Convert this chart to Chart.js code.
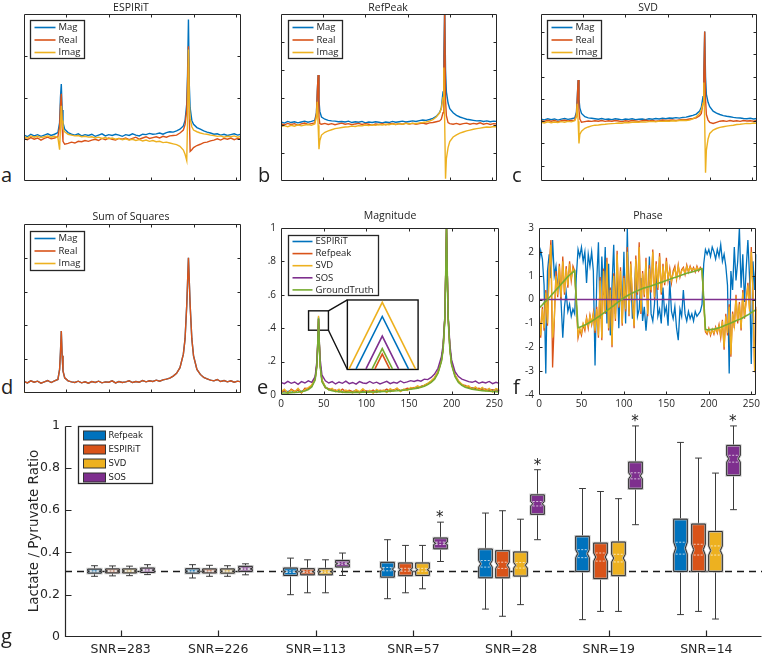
<!DOCTYPE html>
<html>
<head>
<meta charset="utf-8">
<script src="https://cdn.jsdelivr.net/npm/chart.js@4.4.0/dist/chart.umd.min.js"></script>
<style>
  html, body { margin: 0; padding: 0; background: #fff; }
  body { width: 763px; height: 654px; position: relative; overflow: hidden; font-family: 'Open Sans', sans-serif; color: #222; }
  canvas { position: absolute; }
  .ttl { position: absolute; font-size: 10.5px; line-height: 12px; transform: translateX(-50%); white-space: nowrap; }
  .let { position: absolute; font-size: 20px; line-height: 20px; }
  .ylab { position: absolute; width: 220px; text-align: center; font: 13.5px 'DejaVu Sans', sans-serif; line-height: 16px; transform: rotate(-90deg); color: #262626; }
</style>
</head>
<body>
<script>
// ---- spectra (panels a-e): sample positions, denser around the two peaks ----
const SPEC_X = [0,4,8,12,16,20,24,28,32,36,40,
  42,43,44,45,46,
  48,52,56,60,64,68,72,76,80,
  84,88,92,96,100,104,108,112,116,
  120,124,128,132,136,140,144,148,152,
  156,160,164,168,172,176,180,184,188,
  190,192,193,194,195,196,198,
  200,204,208,212,216,220,224,228,232,236,240,244,248,252,256];

// a) ESPIRiT
const A_MAG = [0.10,0.06,0.12,0.08,0.11,0.07,0.10,0.13,0.09,0.12,0.16,
  0.40,1.00,1.32,0.70,0.40,
  0.24,0.16,0.12,0.10,0.13,0.08,0.11,0.09,0.12,
  0.07,0.10,0.13,0.08,0.11,0.09,0.12,0.10,0.07,
  0.11,0.09,0.13,0.10,0.08,0.12,0.11,0.14,0.12,
  0.13,0.15,0.12,0.16,0.18,0.17,0.20,0.24,0.32,
  0.45,0.85,1.60,2.87,1.30,0.75,0.45,
  0.36,0.28,0.24,0.20,0.17,0.15,0.12,0.13,0.10,0.12,0.09,0.11,0.13,0.10,0.12];
const A_REAL = [0.02,-0.01,0.04,0.00,0.03,-0.02,0.02,0.05,0.01,0.03,0.06,
  0.30,0.80,1.09,0.30,-0.05,
  -0.12,-0.10,-0.07,-0.09,-0.05,-0.06,-0.03,-0.05,-0.02,
  0.00,-0.03,0.02,-0.01,0.03,0.00,-0.02,0.02,0.00,
  0.03,-0.01,0.02,0.05,0.00,0.03,0.06,0.02,0.04,
  0.06,0.03,0.07,0.05,0.08,0.09,0.10,0.15,0.22,
  0.35,0.70,1.40,2.23,0.60,-0.29,-0.25,
  -0.20,-0.15,-0.12,-0.08,-0.07,-0.04,-0.02,0.01,-0.02,0.02,0.00,0.03,-0.01,0.02,0.01];
const A_IMAG = [0.06,0.03,0.08,0.05,0.07,0.04,0.06,0.08,0.05,0.07,0.04,
  -0.25,0.30,0.80,0.45,0.25,
  0.18,0.12,0.10,0.08,0.09,0.06,0.07,0.05,0.06,
  0.03,0.05,0.02,0.04,0.01,0.03,0.00,0.02,-0.01,
  0.01,-0.02,0.00,-0.03,-0.01,-0.04,-0.02,-0.05,-0.03,
  -0.06,-0.05,-0.08,-0.07,-0.09,-0.11,-0.13,-0.17,-0.26,
  -0.36,-0.51,0.50,2.15,0.90,0.50,0.30,
  0.22,0.18,0.15,0.13,0.12,0.10,0.09,0.07,0.08,0.05,0.07,0.06,0.08,0.05,0.07];

// b) RefPeak
const B_MAG = [0.12,0.08,0.14,0.10,0.13,0.09,0.12,0.15,0.11,0.14,0.18,
  0.45,1.20,1.81,0.90,0.50,
  0.30,0.22,0.18,0.16,0.15,0.13,0.14,0.12,0.15,
  0.10,0.13,0.11,0.14,0.09,0.12,0.10,0.13,0.11,
  0.09,0.12,0.10,0.14,0.11,0.13,0.15,0.12,0.14,
  0.16,0.14,0.17,0.19,0.18,0.21,0.25,0.32,0.46,
  0.62,1.20,2.50,4.30,2.00,1.20,0.80,
  0.60,0.45,0.36,0.30,0.26,0.22,0.20,0.18,0.16,0.17,0.14,0.16,0.13,0.15,0.14];
const B_REAL = [0.05,0.02,0.07,0.03,0.06,0.01,0.05,0.08,0.03,0.06,0.09,
  0.40,1.20,1.81,0.30,0.06,
  0.04,0.07,0.03,0.06,0.02,0.05,0.08,0.04,0.06,
  0.02,0.05,0.07,0.03,0.06,0.04,0.01,0.05,0.03,
  0.06,0.02,0.05,0.07,0.03,0.06,0.04,0.08,0.05,
  0.07,0.04,0.06,0.08,0.05,0.09,0.10,0.13,0.16,
  0.22,0.45,1.50,4.30,0.90,0.35,0.10,
  0.06,0.04,0.07,0.03,0.06,0.08,0.04,0.07,0.05,0.09,0.04,0.07,0.03,0.06,0.05];
const B_IMAG = [-0.04,-0.01,-0.05,0.00,-0.03,0.02,-0.02,0.01,0.03,0.00,0.05,
  0.30,0.85,0.00,-0.86,-0.55,
  -0.35,-0.25,-0.20,-0.16,-0.12,-0.10,-0.08,-0.06,-0.05,
  -0.03,-0.04,-0.01,-0.02,0.01,-0.01,0.02,0.00,0.03,
  0.01,0.04,0.02,0.05,0.03,0.06,0.04,0.07,0.05,
  0.08,0.06,0.09,0.10,0.12,0.15,0.20,0.30,0.45,
  0.60,1.00,2.08,0.10,-1.92,-1.20,-0.80,
  -0.58,-0.42,-0.34,-0.28,-0.24,-0.20,-0.17,-0.14,-0.12,-0.10,-0.08,-0.06,-0.07,-0.04,-0.05];

// c) SVD
const C_MAG = [0.09,0.06,0.11,0.07,0.10,0.05,0.09,0.12,0.08,0.11,0.15,
  0.40,1.10,1.85,1.00,0.60,
  0.35,0.20,0.15,0.13,0.11,0.09,0.12,0.08,0.10,
  0.07,0.11,0.09,0.06,0.10,0.08,0.11,0.07,0.09,
  0.10,0.07,0.11,0.09,0.12,0.10,0.13,0.11,0.14,
  0.13,0.16,0.14,0.17,0.18,0.22,0.26,0.32,0.46,
  0.62,1.10,2.20,4.03,2.00,1.20,0.85,
  0.65,0.45,0.36,0.30,0.25,0.22,0.20,0.17,0.15,0.14,0.12,0.11,0.13,0.10,0.12];
const C_REAL = [0.02,-0.01,0.04,0.00,0.03,-0.02,0.02,0.04,0.01,0.03,0.05,
  0.30,1.00,1.85,0.50,0.10,
  -0.05,-0.02,0.01,-0.01,0.02,0.00,0.03,-0.01,0.02,
  0.00,0.03,0.01,-0.02,0.02,0.00,0.03,0.01,-0.01,
  0.02,0.04,0.01,0.03,0.00,0.02,0.05,0.03,0.04,
  0.05,0.03,0.06,0.08,0.07,0.10,0.12,0.15,0.25,
  0.35,0.80,2.00,4.03,1.00,0.30,0.05,
  -0.05,-0.10,-0.05,0.00,0.02,-0.01,0.03,0.00,0.02,-0.01,0.03,0.01,0.02,0.00,0.03];
const C_IMAG = [-0.05,-0.08,-0.03,-0.07,-0.04,-0.06,-0.02,-0.05,-0.01,-0.03,0.02,
  0.20,0.78,0.00,-1.00,-0.60,
  -0.45,-0.32,-0.26,-0.21,-0.18,-0.17,-0.15,-0.14,-0.12,
  -0.11,-0.10,-0.08,-0.09,-0.06,-0.07,-0.05,-0.04,-0.05,
  -0.03,-0.04,-0.02,-0.01,-0.03,0.00,-0.01,0.01,0.00,
  0.02,0.01,0.03,0.04,0.03,0.05,0.10,0.20,0.35,
  0.50,0.80,1.74,0.00,-2.32,-1.30,-0.80,
  -0.55,-0.40,-0.33,-0.28,-0.25,-0.22,-0.20,-0.18,-0.15,-0.14,-0.12,-0.10,-0.11,-0.08,-0.09];

// d) Sum of Squares (magnitude equals the real part, imaginary part is zero)
const D_REAL = [0.34,0.30,0.36,0.32,0.35,0.29,0.33,0.37,0.31,0.36,0.40,
  0.70,1.20,1.83,1.10,0.65,
  0.45,0.36,0.33,0.31,0.35,0.30,0.33,0.29,0.34,
  0.31,0.35,0.30,0.33,0.32,0.36,0.30,0.34,0.31,
  0.33,0.36,0.31,0.34,0.32,0.37,0.33,0.36,0.34,
  0.38,0.35,0.39,0.41,0.44,0.50,0.58,0.75,1.15,
  1.60,2.60,3.30,4.00,3.30,2.60,1.60,
  1.10,0.70,0.55,0.46,0.42,0.38,0.36,0.40,0.34,0.37,0.33,0.36,0.32,0.35,0.33];
const D_MAG = D_REAL;
const D_IMAG_X = [0, 256];
const D_IMAG = [0, 0];

// e) Magnitude
const E_ESP = [0.018,0.025,0.020,0.028,0.015,0.033,0.020,0.030,0.040,0.052,0.098,
  0.180,0.295,0.468,0.295,0.178,
  0.088,0.048,0.035,0.030,0.025,0.028,0.020,0.026,0.020,
  0.018,0.028,0.016,0.025,0.020,0.024,0.015,0.028,0.020,
  0.026,0.020,0.030,0.028,0.035,0.025,0.032,0.034,0.040,
  0.042,0.048,0.050,0.058,0.068,0.082,0.100,0.138,0.208,
  0.278,0.458,0.708,1.000,0.708,0.458,0.278,
  0.188,0.118,0.082,0.062,0.052,0.048,0.040,0.042,0.035,0.040,0.030,0.034,0.028,0.032,0.026];
const E_REF = [0.015,0.028,0.010,0.035,0.022,0.030,0.012,0.040,0.038,0.055,0.095,
  0.175,0.285,0.455,0.290,0.175,
  0.085,0.042,0.038,0.028,0.030,0.018,0.035,0.020,0.028,
  0.020,0.025,0.012,0.030,0.024,0.018,0.030,0.015,0.028,
  0.024,0.035,0.020,0.030,0.038,0.026,0.030,0.040,0.036,
  0.045,0.040,0.052,0.058,0.066,0.080,0.100,0.135,0.205,
  0.275,0.455,0.705,1.000,0.705,0.455,0.275,
  0.185,0.115,0.080,0.060,0.058,0.045,0.042,0.035,0.040,0.030,0.036,0.025,0.032,0.022,0.028];
const E_SVD = [0.020,0.035,0.012,0.030,0.018,0.040,0.015,0.032,0.045,0.060,0.100,
  0.185,0.300,0.475,0.300,0.180,
  0.090,0.050,0.030,0.040,0.020,0.035,0.015,0.030,0.022,
  0.012,0.032,0.020,0.038,0.015,0.028,0.010,0.034,0.022,
  0.030,0.015,0.038,0.025,0.042,0.020,0.036,0.028,0.045,
  0.040,0.055,0.045,0.060,0.070,0.085,0.105,0.140,0.210,
  0.280,0.460,0.710,1.000,0.710,0.460,0.280,
  0.190,0.120,0.085,0.065,0.050,0.055,0.035,0.048,0.030,0.045,0.025,0.040,0.018,0.038,0.030];
const E_SOS = [0.075,0.068,0.082,0.070,0.078,0.064,0.080,0.072,0.085,0.076,0.110,
  0.200,0.310,0.455,0.310,0.210,
  0.120,0.085,0.072,0.080,0.066,0.078,0.070,0.083,0.068,
  0.075,0.065,0.080,0.072,0.069,0.081,0.070,0.077,0.066,
  0.074,0.082,0.068,0.076,0.071,0.084,0.073,0.079,0.086,
  0.081,0.088,0.083,0.095,0.092,0.105,0.125,0.160,0.230,
  0.300,0.470,0.710,1.000,0.710,0.470,0.300,
  0.210,0.140,0.110,0.095,0.088,0.080,0.076,0.083,0.070,0.078,0.072,0.081,0.068,0.076,0.070];
const E_GT = [0.012,0.012,0.013,0.014,0.015,0.017,0.020,0.024,0.032,0.048,0.090,
  0.170,0.290,0.460,0.290,0.170,
  0.080,0.045,0.032,0.025,0.021,0.019,0.017,0.016,0.016,
  0.016,0.016,0.016,0.017,0.017,0.018,0.018,0.019,0.020,
  0.021,0.022,0.023,0.024,0.025,0.027,0.029,0.031,0.034,
  0.037,0.041,0.046,0.053,0.062,0.075,0.095,0.130,0.200,
  0.270,0.450,0.700,1.000,0.700,0.450,0.270,
  0.180,0.110,0.075,0.058,0.047,0.040,0.035,0.031,0.028,0.026,0.024,0.022,0.021,0.020,0.019];
const E_YLABELS = ['0', '.2', '.4', '.6', '.8', '1'];
// zoomed peak tips: apex height and half base width of each triangle in the inset
const INSET_ORDER = ['ESPIRiT', 'Refpeak', 'SVD', 'SOS', 'GroundTruth'];
const INSET_APEX = [0.470, 0.245, 0.555, 0.353, 0.278];
const INSET_HALF = [30.7, 8.6, 38.9, 19.1, 11.9];
const ZOOM_WIN = { x0: 32.3, x1: 55.6, y0: 0.388, y1: 0.504 };
const INSET_WIN = { x0: 77.8, x1: 160.7, y0: 0.153, y1: 0.569, cx: 118.7 };

// f) Phase, one value every 2 samples (0..256)
const F_ESP = [1.50,2.05,1.70,0.60,-3.10,1.20,1.90,0.90,2.50,1.00,1.40,0.50,0.90,-0.10,-1.60,-0.30,
  0.30,-0.50,-0.20,-0.70,-0.40,-0.60,1.00,2.10,1.80,2.20,1.60,2.00,0.70,1.90,1.40,2.00,
  1.20,-2.76,0.80,2.40,-0.80,1.80,0.20,2.20,-1.00,1.50,-1.50,0.60,2.30,-0.60,1.20,-1.20,
  0.80,-0.40,2.00,-1.00,3.00,-0.50,1.20,-0.80,-0.20,1.60,-0.70,-0.40,0.90,-0.90,-0.30,-1.30,
  -0.40,1.80,-0.60,-0.90,-0.20,1.30,-0.70,-0.40,-1.00,0.50,-0.60,-0.30,-1.10,0.80,-0.50,-0.80,
  -0.30,-1.20,-1.70,-0.40,-0.70,0.40,-0.60,-0.90,-0.50,-0.80,-0.60,-0.90,-0.50,-0.70,-0.60,-0.50,
  -0.20,1.50,2.10,1.90,2.10,1.80,2.20,2.00,1.70,2.10,1.80,2.30,1.60,1.90,1.40,0.60,
  -3.10,1.20,0.40,2.20,0.80,1.60,3.00,0.50,1.90,-0.10,1.30,2.50,0.90,-2.70,1.60,0.40,
  1.90];
const F_REF = [-0.40,-1.60,-0.30,-1.30,0.40,-1.10,1.40,2.50,-2.85,-0.90,1.20,0.10,1.50,0.00,1.80,0.20,
  1.40,0.50,1.60,0.80,1.40,1.20,-0.20,-1.60,-1.25,-1.50,-1.05,-1.30,-0.75,-1.20,-0.65,-1.05,
  -0.55,-1.40,-0.30,-1.60,0.95,-1.70,1.30,-0.60,1.75,-1.30,0.50,-2.00,1.10,-0.90,2.05,-0.35,
  1.35,-1.10,1.00,-0.50,2.20,-0.70,1.60,0.00,-1.20,1.85,0.20,2.40,-0.60,1.20,0.10,1.75,
  -0.70,1.45,0.30,2.10,0.00,1.60,0.40,1.95,0.20,1.50,0.60,1.75,0.80,1.30,0.70,1.20,
  1.40,0.85,1.45,0.95,1.25,1.35,1.05,1.45,1.15,1.40,1.20,1.35,1.15,1.40,1.20,1.35,
  1.25,-0.10,-1.35,-1.45,-1.20,-1.50,-1.25,-1.45,-1.15,-1.40,-1.05,-1.60,-0.85,-2.10,-0.60,-1.50,
  -0.20,-2.40,-0.50,-1.20,0.20,-1.00,-0.10,-1.30,0.40,-0.80,0.00,0.70,-0.40,2.20,0.30,-3.05,
  -0.30];
const F_SVD = [-0.50,-1.50,-0.40,-1.20,0.30,-1.00,1.20,2.30,-1.60,-0.80,1.00,0.20,1.40,0.10,1.60,0.30,
  1.30,0.60,1.50,0.90,1.30,1.10,-0.20,-1.50,-1.20,-1.40,-1.00,-1.20,-0.80,-1.10,-0.70,-1.00,
  -0.60,-1.30,-0.40,-1.50,0.80,-1.60,1.20,-0.50,1.60,-1.20,0.40,-1.90,1.00,-0.80,1.90,-0.30,
  1.20,-1.00,0.90,-0.40,2.00,-0.60,1.50,0.10,-1.10,1.70,0.30,2.20,-0.50,1.10,0.20,1.60,
  -0.60,1.30,0.40,2.00,0.10,1.50,0.50,1.80,0.30,1.40,0.70,1.60,0.90,1.20,0.80,1.10,
  1.30,0.90,1.40,1.00,1.20,1.30,1.10,1.40,1.20,1.35,1.25,1.30,1.20,1.35,1.25,1.30,
  1.20,-0.10,-1.30,-1.40,-1.25,-1.45,-1.30,-1.40,-1.20,-1.35,-1.10,-1.50,-0.90,-2.00,-0.70,-1.40,
  -0.30,-2.30,-0.60,-1.10,0.10,-0.90,-0.20,-1.20,0.30,-0.70,-0.10,0.60,-0.50,2.00,0.20,-3.00,
  -0.40];
const F_GT = [-0.36,-0.29,-0.22,-0.14,-0.07,0.00,0.08,0.16,0.24,0.32,0.40,0.48,0.56,0.64,0.72,0.80,
  0.88,0.96,1.03,1.09,1.15,1.20,0.00,-1.18,-1.16,-1.13,-1.10,-1.07,-1.03,-0.99,-0.95,-0.91,
  -0.86,-0.82,-0.77,-0.72,-0.67,-0.62,-0.57,-0.52,-0.46,-0.41,-0.36,-0.30,-0.25,-0.19,-0.14,-0.08,
  -0.03,0.02,0.07,0.12,0.16,0.20,0.24,0.28,0.31,0.34,0.37,0.40,0.43,0.46,0.49,0.51,
  0.53,0.55,0.57,0.60,0.62,0.65,0.67,0.70,0.72,0.75,0.78,0.80,0.83,0.85,0.88,0.90,
  0.93,0.95,0.98,1.00,1.03,1.05,1.08,1.10,1.12,1.14,1.16,1.18,1.20,1.22,1.24,1.27,
  1.29,0.00,-1.25,-1.27,-1.27,-1.26,-1.25,-1.24,-1.22,-1.20,-1.18,-1.16,-1.13,-1.10,-1.07,-1.04,
  -1.01,-0.98,-0.95,-0.92,-0.89,-0.86,-0.83,-0.80,-0.76,-0.72,-0.68,-0.64,-0.60,-0.55,-0.50,-0.46,
  -0.43];
const F_SOS_X = [0, 256];
const F_SOS = [0, 0];
const PHASE_X = F_GT.map((_, i) => i * 2);

// g) Lactate / Pyruvate ratio boxplots: [whisker low, q1, median, q3, whisker high]
const SNR_LABELS = ['SNR=283', 'SNR=226', 'SNR=113', 'SNR=57', 'SNR=28', 'SNR=19', 'SNR=14'];
const G_YLABELS = ['0', '0.2', '0.4', '0.6', '0.8', '1'];
const METHODS = ['Refpeak', 'ESPIRiT', 'SVD', 'SOS'];
const REFPEAK_BOX = [[0.287,0.302,0.311,0.321,0.337],[0.279,0.302,0.311,0.323,0.342],[0.200,0.291,0.309,0.326,0.373],
  [0.181,0.283,0.321,0.353,0.460],[0.132,0.280,0.346,0.416,0.586],[0.082,0.310,0.394,0.476,0.702],[0.106,0.310,0.420,0.557,0.920]];
const ESPIRIT_BOX = [[0.289,0.303,0.312,0.322,0.336],[0.287,0.303,0.311,0.322,0.339],[0.209,0.294,0.309,0.323,0.365],
  [0.209,0.290,0.318,0.350,0.433],[0.098,0.280,0.339,0.408,0.597],[0.121,0.276,0.378,0.444,0.688],[0.121,0.310,0.413,0.534,0.846]];
const SVD_BOX = [[0.290,0.303,0.312,0.322,0.335],[0.287,0.302,0.311,0.322,0.337],[0.209,0.294,0.309,0.323,0.365],
  [0.228,0.291,0.318,0.350,0.433],[0.153,0.288,0.339,0.402,0.557],[0.121,0.290,0.373,0.449,0.654],[0.085,0.310,0.409,0.499,0.775]];
const SOS_BOX = [[0.295,0.305,0.316,0.326,0.342],[0.294,0.310,0.322,0.334,0.346],[0.291,0.331,0.347,0.362,0.397],
  [0.357,0.417,0.443,0.468,0.543],[0.460,0.580,0.630,0.672,0.791],[0.531,0.701,0.762,0.827,0.998],[0.602,0.764,0.843,0.906,0.998]];
const SOS_STAR = [null, null, null, 0.575, 0.822, 1.03, 1.03];
const TRUE_RATIO = 0.31;
const N_TRIALS = 190;

const COL = { blue: '#0072BD', orange: '#D95319', yellow: '#EDB120', purple: '#7E2F8E', green: '#77AC30' };
const BOX_STATS = [REFPEAK_BOX, ESPIRIT_BOX, SVD_BOX, SOS_BOX];
const METHOD_COLORS = [COL.blue, COL.orange, COL.yellow, COL.purple];
const BOX_OFFSET = [-0.27, -0.09, 0.09, 0.27];
const BOX_WIDTH = 0.14;

Chart.defaults.font.family = "'Open Sans', sans-serif";
Chart.defaults.color = '#222';

// box with inward ticks (or left/bottom axes only)
const frame = {
  id: 'frame',
  afterDraw(chart, args, o) {
    if (!o || !o.on) return;
    const { ctx, chartArea: a, scales } = chart;
    const L = o.tick || 3;
    const l = Math.round(a.left) + 0.5, r = Math.round(a.right) - 0.5;
    const t = Math.round(a.top) + 0.5, b = Math.round(a.bottom) - 0.5;
    ctx.save();
    ctx.strokeStyle = '#262626';
    ctx.lineWidth = o.lw || 1;
    ctx.beginPath();
    if (o.mode === 'axes') { ctx.moveTo(l, t); ctx.lineTo(l, b); ctx.lineTo(r, b); }
    else ctx.rect(l, t, r - l, b - t);
    (o.xt || []).forEach(v => {
      const px = Math.round(scales.x.getPixelForValue(v)) + 0.5;
      ctx.moveTo(px, b); ctx.lineTo(px, b - L);
      if (o.mode !== 'axes') { ctx.moveTo(px, t); ctx.lineTo(px, t + L); }
    });
    (o.yt || []).forEach(v => {
      const py = Math.round(scales.y.getPixelForValue(v)) + 0.5;
      ctx.moveTo(l, py); ctx.lineTo(l + L, py);
      if (o.mode !== 'axes') { ctx.moveTo(r, py); ctx.lineTo(r - L, py); }
    });
    ctx.stroke();
    ctx.restore();
  }
};

// legend drawn inside the axes, MATLAB style
const inLegend = {
  id: 'inLegend',
  afterDraw(chart, args, o) {
    if (!o || !o.items) return;
    const { ctx, chartArea: a } = chart;
    const bx = Math.round(a.left + o.x) + 0.5, by = Math.round(a.top + o.y) + 0.5;
    ctx.save();
    ctx.fillStyle = '#fff';
    ctx.fillRect(bx, by, o.w, o.h);
    ctx.strokeStyle = '#262626'; ctx.lineWidth = 1.3;
    ctx.strokeRect(bx, by, o.w, o.h);
    ctx.font = o.font;
    ctx.textBaseline = 'middle';
    o.items.forEach((it, k) => {
      const yy = by + o.first + k * o.row;
      if (o.swatch === 'box') {
        ctx.fillStyle = it.color;
        ctx.fillRect(bx + o.sx0, yy - o.sh / 2, o.sx1 - o.sx0, o.sh);
        ctx.strokeStyle = '#333'; ctx.lineWidth = 1;
        ctx.strokeRect(bx + o.sx0, yy - o.sh / 2, o.sx1 - o.sx0, o.sh);
      } else {
        ctx.strokeStyle = it.color; ctx.lineWidth = 1.6;
        ctx.beginPath(); ctx.moveTo(bx + o.sx0, yy); ctx.lineTo(bx + o.sx1, yy); ctx.stroke();
      }
      ctx.fillStyle = '#222';
      ctx.fillText(it.label, bx + o.tx, yy);
    });
    ctx.restore();
  }
};

// zoom window + inset frame for panel e
const insetZoom = {
  id: 'insetZoom',
  beforeDatasetsDraw(chart, args, o) {
    if (!o || !o.on) return;
    const { ctx, scales: { x, y } } = chart;
    const X = v => x.getPixelForValue(v), Y = v => y.getPixelForValue(v);
    ctx.save();
    ctx.fillStyle = '#fff';
    ctx.fillRect(X(INSET_WIN.x0), Y(INSET_WIN.y1), X(INSET_WIN.x1) - X(INSET_WIN.x0), Y(INSET_WIN.y0) - Y(INSET_WIN.y1));
    ctx.strokeStyle = '#111'; ctx.lineWidth = 1.4;
    ctx.strokeRect(X(INSET_WIN.x0), Y(INSET_WIN.y1), X(INSET_WIN.x1) - X(INSET_WIN.x0), Y(INSET_WIN.y0) - Y(INSET_WIN.y1));
    ctx.strokeRect(X(ZOOM_WIN.x0), Y(ZOOM_WIN.y1), X(ZOOM_WIN.x1) - X(ZOOM_WIN.x0), Y(ZOOM_WIN.y0) - Y(ZOOM_WIN.y1));
    ctx.beginPath();
    ctx.moveTo(X(ZOOM_WIN.x1), Y(ZOOM_WIN.y1)); ctx.lineTo(X(INSET_WIN.x0), Y(INSET_WIN.y1));
    ctx.moveTo(X(ZOOM_WIN.x1), Y(ZOOM_WIN.y0)); ctx.lineTo(X(INSET_WIN.x0), Y(INSET_WIN.y0));
    ctx.stroke();
    ctx.restore();
  }
};

// notched boxplots for panel g
const boxPlot = {
  id: 'boxPlot',
  afterDatasetsDraw(chart, args, o) {
    if (!o || !o.on) return;
    const { ctx, scales: { x, y } } = chart;
    const py = v => y.getPixelForValue(v);
    ctx.save();
    ctx.strokeStyle = '#1a1a1a'; ctx.lineWidth = 1.4; ctx.setLineDash([7, 5]);
    ctx.beginPath(); ctx.moveTo(x.left, py(TRUE_RATIO)); ctx.lineTo(x.right, py(TRUE_RATIO)); ctx.stroke();
    ctx.setLineDash([]);
    const hw = (x.getPixelForValue(BOX_WIDTH) - x.getPixelForValue(0)) / 2;
    BOX_STATS.forEach((stats, j) => {
      stats.forEach(([lo, q1, md, q3, hi], i) => {
        const cx = Math.round(x.getPixelForValue(i + 1 + BOX_OFFSET[j])) + 0.5;
        const nh = 1.57 * (q3 - q1) / Math.sqrt(N_TRIALS);
        const nLo = Math.max(q1, md - nh), nHi = Math.min(q3, md + nh);
        const ind = hw * 0.3;
        ctx.strokeStyle = '#3a3a3a'; ctx.lineWidth = 1;
        ctx.beginPath();
        ctx.moveTo(cx, py(hi)); ctx.lineTo(cx, py(q3));
        ctx.moveTo(cx, py(q1)); ctx.lineTo(cx, py(lo));
        ctx.moveTo(cx - hw * 0.5, py(hi)); ctx.lineTo(cx + hw * 0.5, py(hi));
        ctx.moveTo(cx - hw * 0.5, py(lo)); ctx.lineTo(cx + hw * 0.5, py(lo));
        ctx.stroke();
        ctx.beginPath();
        ctx.moveTo(cx - hw, py(q3)); ctx.lineTo(cx + hw, py(q3));
        ctx.lineTo(cx + hw, py(nHi)); ctx.lineTo(cx + hw - ind, py(md)); ctx.lineTo(cx + hw, py(nLo));
        ctx.lineTo(cx + hw, py(q1)); ctx.lineTo(cx - hw, py(q1));
        ctx.lineTo(cx - hw, py(nLo)); ctx.lineTo(cx - hw + ind, py(md)); ctx.lineTo(cx - hw, py(nHi));
        ctx.closePath();
        ctx.fillStyle = METHOD_COLORS[j]; ctx.fill();
        ctx.strokeStyle = 'rgba(190,190,190,0.8)'; ctx.lineWidth = 2.5; ctx.stroke();
        ctx.strokeStyle = '#2a2a2a'; ctx.lineWidth = 1; ctx.stroke();
        ctx.strokeStyle = 'rgba(255,255,255,0.7)'; ctx.setLineDash([2, 1.5]);
        ctx.beginPath();
        [nLo, nHi].forEach(v => { ctx.moveTo(cx - hw + ind, py(v)); ctx.lineTo(cx + hw - ind, py(v)); });
        ctx.stroke();
        ctx.setLineDash([]);
      });
    });
    ctx.fillStyle = '#222'; ctx.font = "15px 'DejaVu Sans'"; ctx.textAlign = 'center'; ctx.textBaseline = 'middle';
    SOS_STAR.forEach((v, i) => {
      if (v == null) return;
      ctx.fillText('*', x.getPixelForValue(i + 1 + BOX_OFFSET[3]), py(v) + 3);
    });
    ctx.restore();
  }
};

Chart.register(frame, boxPlot, insetZoom, inLegend);

function place(rect, m) {
  const cv = document.createElement('canvas');
  cv.width = rect.w + m.l + m.r;
  cv.height = rect.h + m.t + m.b;
  cv.style.left = (rect.l - m.l) + 'px';
  cv.style.top = (rect.t - m.t) + 'px';
  document.body.appendChild(cv);
  return cv;
}

function trace(xs, ys, color, lw) {
  return { data: xs.map((x, i) => ({ x, y: ys[i] })), borderColor: color, borderWidth: lw || 1.4,
           pointRadius: 0, tension: 0, fill: false };
}

function specChart(rect, m, sets, xo, yo, plugins, axes) {
  sets.forEach((d, i) => { d.order = sets.length - i; });   // later series on top, like MATLAB
  const tickBase = { font: { size: 10 }, maxRotation: 0, includeBounds: false, color: '#262626' };
  return new Chart(place(rect, m), {
    type: 'line',
    data: { datasets: sets },
    options: {
      responsive: false, animation: false, devicePixelRatio: 1,
      layout: { padding: axes ? { top: m.t, right: m.r, left: 0, bottom: 0 } : { top: m.t, right: m.r, left: m.l, bottom: m.b } },
      scales: {
        x: { type: 'linear', min: xo.min, max: xo.max, display: !!axes,
             grid: { display: false, drawTicks: false }, border: { display: false },
             afterFit: s => { s.height = m.b; },
             ticks: Object.assign({ padding: 3 }, tickBase, xo.ticks) },
        y: { type: 'linear', min: yo.min, max: yo.max, display: !!axes,
             grid: { display: false, drawTicks: false }, border: { display: false },
             afterFit: s => { s.width = m.l; },
             ticks: Object.assign({ padding: 5 }, tickBase, yo.ticks) }
      },
      plugins: Object.assign({ legend: { display: false }, tooltip: { enabled: false } }, plugins)
    }
  });
}

const XT = [50, 100, 150, 200, 250];
const smallLegend = (x, y, labels, colors) => ({
  x, y, w: 54, h: 38, first: 7, row: 12.5, sx0: 4, sx1: 25, tx: 28,
  font: "9.5px 'Open Sans', sans-serif", items: labels.map((label, k) => ({ label, color: colors[k] }))
});
const MRI = ['Mag', 'Real', 'Imag'];
const MRI_COL = [COL.blue, COL.orange, COL.yellow];
const M0 = { l: 2, t: 2, r: 2, b: 2 };

// a
specChart({ l: 22, t: 14, w: 219, h: 169 }, M0,
  [trace(SPEC_X, A_MAG, COL.blue), trace(SPEC_X, A_REAL, COL.orange), trace(SPEC_X, A_IMAG, COL.yellow)],
  { min: 0, max: 256 }, { min: -1, max: 3 },
  { frame: { on: true, xt: XT, yt: [0, 1, 2] }, inLegend: smallLegend(6, 6, MRI, MRI_COL) });
// b
specChart({ l: 279, t: 14, w: 218, h: 169 }, M0,
  [trace(SPEC_X, B_MAG, COL.blue), trace(SPEC_X, B_REAL, COL.orange), trace(SPEC_X, B_IMAG, COL.yellow)],
  { min: 0, max: 256 }, { min: -2, max: 4 },
  { frame: { on: true, xt: XT, yt: [-1, 0, 1, 2, 3] }, inLegend: smallLegend(7, 6, MRI, MRI_COL) });
// c
specChart({ l: 539, t: 14, w: 218, h: 169 }, M0,
  [trace(SPEC_X, C_MAG, COL.blue), trace(SPEC_X, C_REAL, COL.orange), trace(SPEC_X, C_IMAG, COL.yellow)],
  { min: 0, max: 256 }, { min: -2.69, max: 4.82 },
  { frame: { on: true, xt: XT, yt: [-2, -1, 0, 1, 2, 3, 4] }, inLegend: smallLegend(6, 6, MRI, MRI_COL) });
// d
specChart({ l: 22, t: 224, w: 219, h: 171 }, M0,
  [trace(SPEC_X, D_MAG, COL.blue), trace(SPEC_X, D_REAL, COL.orange), trace(D_IMAG_X, D_IMAG, COL.yellow, 2)],
  { min: 0, max: 256 }, { min: 0, max: 5 },
  { frame: { on: true, xt: XT, yt: [1, 2, 3, 4] }, inLegend: Object.assign(smallLegend(6, 7, MRI, MRI_COL), { h: 39 }) });

// e
const E_COLORS = [COL.blue, COL.orange, COL.yellow, COL.purple, COL.green];
const eSets = [trace(SPEC_X, E_ESP, COL.blue), trace(SPEC_X, E_REF, COL.orange), trace(SPEC_X, E_SVD, COL.yellow),
               trace(SPEC_X, E_SOS, COL.purple), trace(SPEC_X, E_GT, COL.green, 1.6)];
const triOrder = [2, 0, 3, 4, 1];   // outermost triangle first
triOrder.forEach(k => {
  const b = INSET_WIN.y0 + 0.004, c = INSET_WIN.cx, h = INSET_HALF[k];
  eSets.push(trace([c - h, c, c + h], [b, INSET_APEX[k], b], E_COLORS[k], 1.6));
});
specChart({ l: 281, t: 225, w: 219, h: 170 }, { l: 28, t: 8, r: 6, b: 18 }, eSets,
  { min: 0, max: 256, ticks: { stepSize: 50 } },
  { min: 0, max: 1, ticks: { stepSize: 0.2, callback: (v, i) => E_YLABELS[i] } },
  { frame: { on: true, xt: [50, 100, 150, 200, 250], yt: [0.2, 0.4, 0.6, 0.8] }, insetZoom: { on: true },
    inLegend: { x: 7, y: 7, w: 90, h: 60, first: 6, row: 12.1, sx0: 4, sx1: 24, tx: 27,
      font: "9.5px 'Open Sans', sans-serif", items: INSET_ORDER.map((label, k) => ({ label, color: E_COLORS[k] })) } }, true);

// f
specChart({ l: 539, t: 225, w: 218, h: 170 }, { l: 24, t: 8, r: 6, b: 18 },
  [trace(PHASE_X, F_ESP, COL.blue, 1.3), trace(PHASE_X, F_REF, COL.orange, 1.3), trace(PHASE_X, F_SVD, COL.yellow, 1.3),
   trace(F_SOS_X, F_SOS, COL.purple, 1.6), trace(PHASE_X, F_GT, COL.green, 1.6)],
  { min: 0, max: 256, ticks: { stepSize: 50 } },
  { min: -4, max: 3, ticks: { stepSize: 1 } },
  { frame: { on: true, xt: [50, 100, 150, 200, 250], yt: [-3, -2, -1, 0, 1, 2] } }, true);

// g
new Chart(place({ l: 65, t: 425, w: 697, h: 212 }, { l: 65, t: 12, r: 1, b: 17 }), {
  type: 'scatter',
  data: { datasets: [] },
  options: {
    responsive: false, animation: false, devicePixelRatio: 1,
    layout: { padding: { top: 12, right: 1, left: 0, bottom: 0 } },
    scales: {
      x: { type: 'linear', min: 0.43, max: 7.57, grid: { display: false, drawTicks: false }, border: { display: false },
           afterFit: s => { s.height = 17; },
           afterBuildTicks: s => { s.ticks = SNR_LABELS.map((_, i) => ({ value: i + 1 })); },
           ticks: { autoSkip: false, maxRotation: 0, padding: 5, color: '#262626',
                    font: { family: "'DejaVu Sans', sans-serif", size: 12.5 }, callback: v => SNR_LABELS[v - 1] } },
      y: { type: 'linear', min: 0, max: 1, grid: { display: false, drawTicks: false }, border: { display: false },
           afterFit: s => { s.width = 65; },
           ticks: { stepSize: 0.2, padding: 5, color: '#262626', font: { family: "'DejaVu Sans', sans-serif", size: 12.5 },
                    callback: (v, i) => G_YLABELS[i] } }
    },
    plugins: {
      legend: { display: false }, tooltip: { enabled: false },
      frame: { on: true, mode: 'axes', lw: 1.2, tick: 6, xt: [1, 2, 3, 4, 5, 6, 7], yt: [0.2, 0.4, 0.6, 0.8, 1] },
      boxPlot: { on: true },
      inLegend: { x: 13, y: 0, w: 74, h: 57, first: 9, row: 14, swatch: 'box', sx0: 5, sx1: 27, sh: 9, tx: 30,
        font: "8.5px 'DejaVu Sans', sans-serif", items: METHODS.map((label, k) => ({ label, color: METHOD_COLORS[k] })) }
    }
  }
});

// titles, panel letters, y label
[['ESPIRiT', 131, 1], ['RefPeak', 388, 1], ['SVD', 648, 1],
 ['Sum of Squares', 131, 210], ['Magnitude', 390, 209], ['Phase', 648, 209]].forEach(([t, x, y]) => {
  const d = document.createElement('div');
  d.className = 'ttl'; d.style.left = x + 'px'; d.style.top = y + 'px'; d.textContent = t;
  document.body.appendChild(d);
});
[['a', 1, 165], ['b', 258, 165], ['c', 512, 165], ['d', 1, 377], ['e', 257, 377], ['f', 513, 377], ['g', 1, 626]].forEach(([t, x, y]) => {
  const d = document.createElement('div');
  d.className = 'let'; d.style.left = x + 'px'; d.style.top = y + 'px'; d.textContent = t;
  document.body.appendChild(d);
});
const yl = document.createElement('div');
yl.className = 'ylab'; yl.style.left = '-77px'; yl.style.top = '523px'; yl.textContent = 'Lactate / Pyruvate Ratio';
document.body.appendChild(yl);
</script>
</body>
</html>
